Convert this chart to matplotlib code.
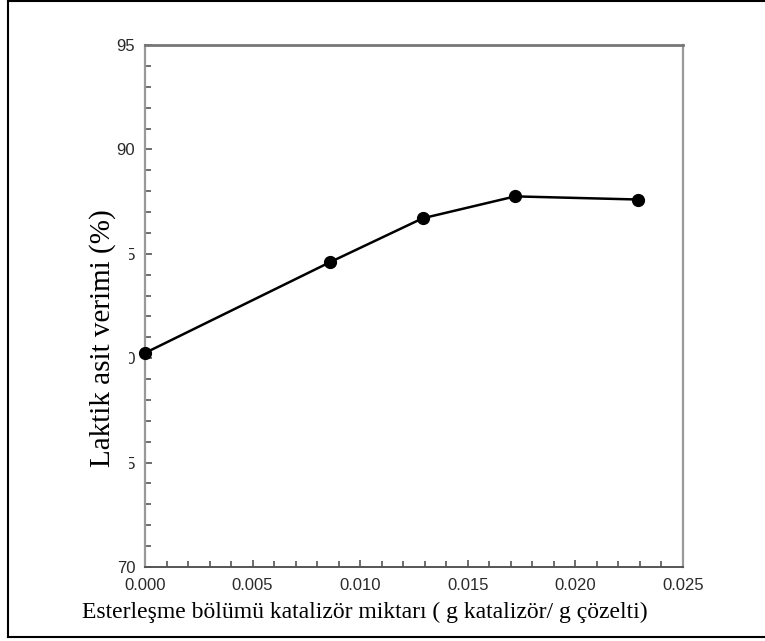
import matplotlib
matplotlib.use("Agg")
import matplotlib.pyplot as plt
from matplotlib.lines import Line2D
from matplotlib.patches import Rectangle
from matplotlib.ticker import MultipleLocator, FormatStrFormatter

catalyst = [0.0, 0.0086, 0.0129, 0.0172, 0.0229]
yield_pct = [80.25, 84.6, 86.7, 87.75, 87.6]
x_ticks = [0.000, 0.005, 0.010, 0.015, 0.020, 0.025]
y_ticks = [70, 75, 80, 85, 90, 95]

W, H = 765, 641
fig = plt.figure(figsize=(W / 100, H / 100), dpi=100)
ax = fig.add_axes([145 / W, 1 - 567 / H, (683 - 145) / W, (567 - 45) / H])

ax.plot(catalyst, yield_pct, color="black", lw=1.8, marker="o", ms=8.5,
        clip_on=False, zorder=5)

ax.set_xlim(0, 0.025)
ax.set_ylim(70, 95)
ax.set_xticks(x_ticks)
ax.set_yticks(y_ticks)
ax.xaxis.set_major_formatter(FormatStrFormatter("%.3f"))
ax.xaxis.set_minor_locator(MultipleLocator(0.001))
ax.yaxis.set_minor_locator(MultipleLocator(1))
ax.tick_params(which="both", direction="in", top=False, right=False,
               colors="#555555", width=1.2)
ax.tick_params(which="major", length=5)
ax.tick_params(which="minor", length=4)
ax.tick_params(axis="y", which="major", pad=7)
ax.tick_params(axis="x", which="major", pad=8)
for lab in ax.get_xticklabels() + ax.get_yticklabels():
    lab.set_fontfamily("Liberation Sans")
    lab.set_fontsize(12)
    lab.set_color("#2a2a2a")

for side in ["left", "right"]:
    ax.spines[side].set_color("#999999")
    ax.spines[side].set_linewidth(1.6)
ax.spines["top"].set_color("#777777")
ax.spines["top"].set_linewidth(2.0)
ax.spines["bottom"].set_color("#555555")
ax.spines["bottom"].set_linewidth(1.4)

fig.text(365 / W, 1 - 612 / H,
         "Esterleşme bölümü katalizör miktarı ( g katalizör/ g çözelti)",
         ha="center", va="center", fontsize=17, family="Liberation Serif",
         color="black")

# white patch hiding part of the y tick labels, as in the reference
fig.add_artist(Rectangle((84 / W, 1 - 480 / H), (129 - 84) / W, (480 - 200) / H,
                         transform=fig.transFigure, facecolor="white",
                         edgecolor="none", zorder=3))
fig.text(103 / W, 1 - 338 / H, "Laktik asit verimi (%)", rotation=90,
         ha="center", va="center", fontsize=21, family="Liberation Serif",
         color="black", zorder=4)

def px(x, y):
    return x / W, 1 - y / H

for (x0, y0), (x1, y1) in [((8, 1), (765, 1)), ((8, 0), (8, 637)),
                           ((8, 637), (765, 637))]:
    a, b = px(x0, y0)
    c, d = px(x1, y1)
    fig.add_artist(Line2D([a, c], [b, d], color="black", lw=1.5,
                          transform=fig.transFigure))

fig.savefig("out.png", dpi=100)
